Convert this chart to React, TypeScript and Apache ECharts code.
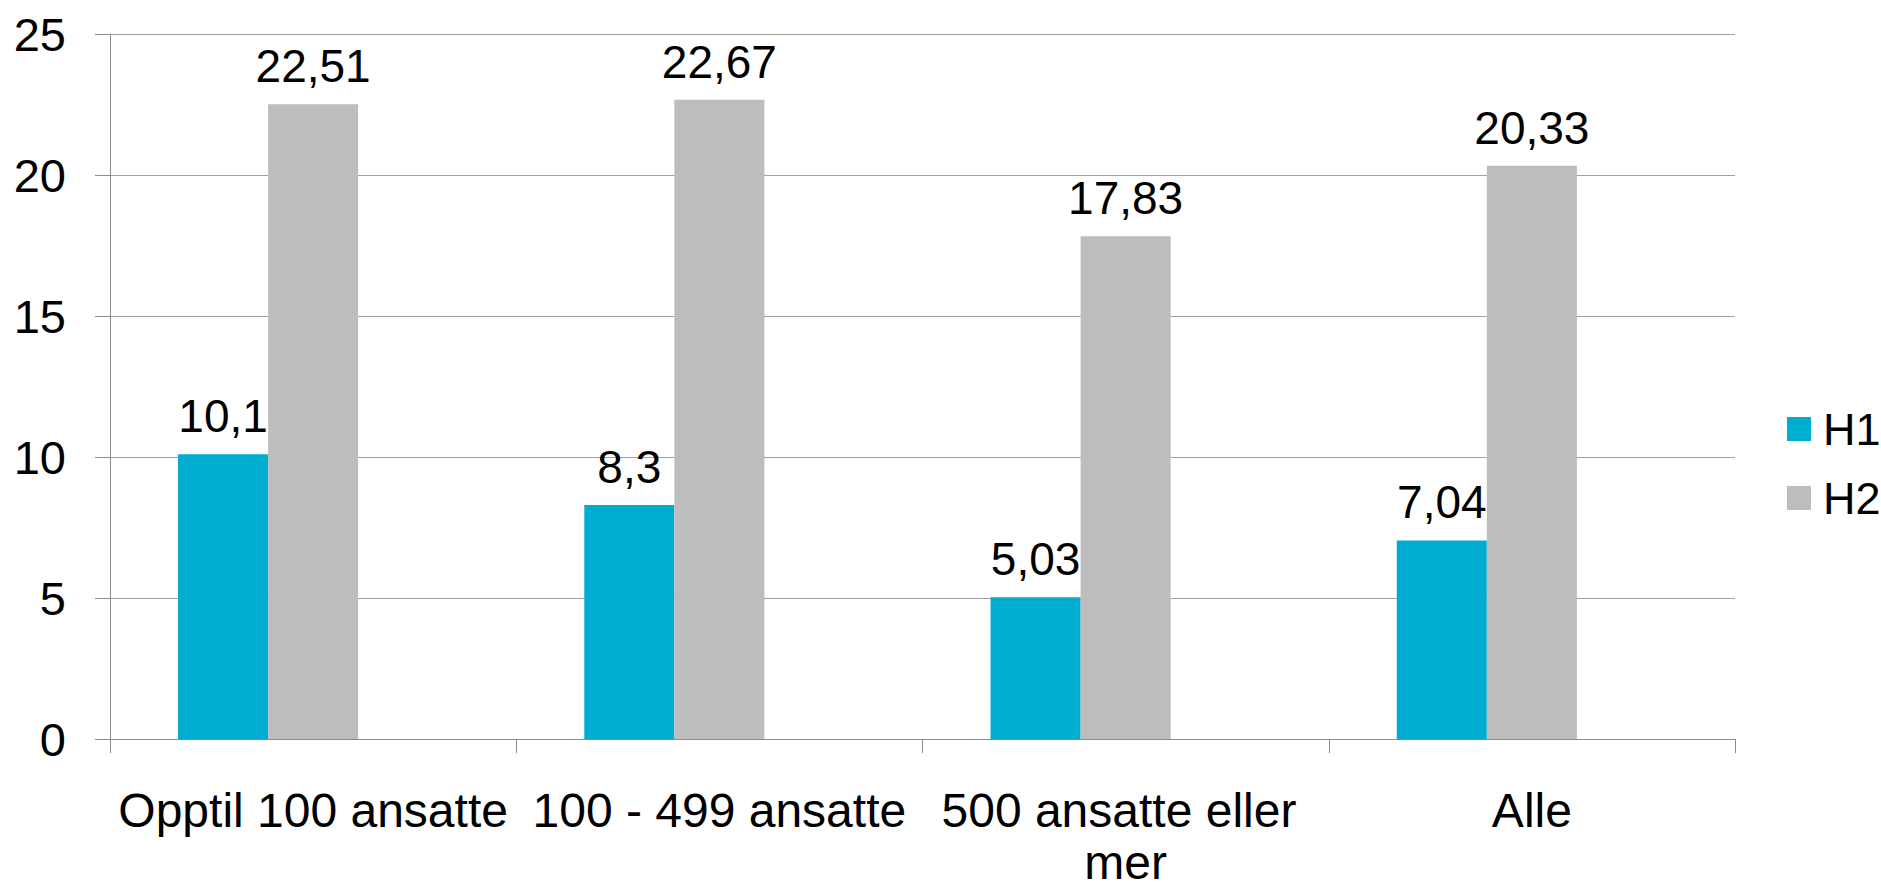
import React, { useEffect, useRef } from "react";
import * as echarts from "echarts";

const categories = ["Opptil 100 ansatte", "100 - 499 ansatte", "500 ansatte eller mer", "Alle"];
const h1Values = [10.1, 8.3, 5.03, 7.04];
const h2Values = [22.51, 22.67, 17.83, 20.33];
const h3Values: (number | null)[] = [null, null, null, null];
const yTicks = { min: 0, max: 25, interval: 5 };

const FONT = "'Liberation Sans', Arial, sans-serif";
const fmt = (v: number) => String(v).replace(".", ",");

export default function App() {
  const ref = useRef<HTMLDivElement>(null);
  useEffect(() => {
    if (!ref.current) return;
    const chart = echarts.init(ref.current, null, { renderer: "svg" });
    const labelCfg = {
      show: true,
      position: "top",
      distance: 15,
      color: "#000",
      fontSize: 46,
      fontFamily: FONT,
      formatter: (p: any) => fmt(p.value),
    };
    chart.setOption({
      animation: false,
      backgroundColor: "#fff",
      textStyle: { fontFamily: FONT },
      grid: { left: 110, right: 146, top: 34, bottom: 144, containLabel: false },
      legend: {
        data: ["H1", "H2"],
        orient: "vertical",
        left: 1782,
        top: 401,
        itemWidth: 24,
        itemHeight: 24,
        itemGap: 23,
        icon: "rect",
        textStyle: { fontSize: 45, lineHeight: 46, color: "#000", fontFamily: FONT, padding: [0, 0, 0, 7] },
      },
      xAxis: {
        type: "category",
        data: categories,
        axisLine: { show: true, lineStyle: { color: "#8c8c8c", width: 1 } },
        axisTick: { show: true, length: 14, lineStyle: { color: "#8c8c8c" } },
        axisLabel: {
          color: "#000",
          fontSize: 48,
          fontFamily: FONT,
          margin: 45,
          lineHeight: 52,
          width: 404,
          overflow: "break",
          interval: 0,
        },
      },
      yAxis: {
        type: "value",
        min: yTicks.min,
        max: yTicks.max,
        interval: yTicks.interval,
        axisLine: { show: true, lineStyle: { color: "#8c8c8c", width: 1 } },
        axisTick: { show: true, length: 15, lineStyle: { color: "#8c8c8c" } },
        axisLabel: { color: "#000", fontSize: 47, fontFamily: FONT, margin: 44 },
        splitLine: { show: true, lineStyle: { color: "#a0a0a0", width: 1 } },
      },
      series: [
        {
          name: "H1",
          type: "bar",
          data: h1Values,
          barGap: "0%",
          barCategoryGap: "33.5%",
          itemStyle: { color: "#00acd0" },
          label: labelCfg,
        },
        {
          name: "H2",
          type: "bar",
          data: h2Values,
          barGap: "0%",
          barCategoryGap: "33.5%",
          itemStyle: { color: "#bdbdbd" },
          label: labelCfg,
        },
        {
          name: "H3",
          type: "bar",
          data: h3Values,
          barGap: "0%",
          barCategoryGap: "33.5%",
          itemStyle: { color: "#ffffff" },
        },
      ],
    });
    return () => chart.dispose();
  }, []);
  return <div ref={ref} style={{ width: 1881, height: 888, position: "absolute", left: 0, top: 0 }} />;
}
